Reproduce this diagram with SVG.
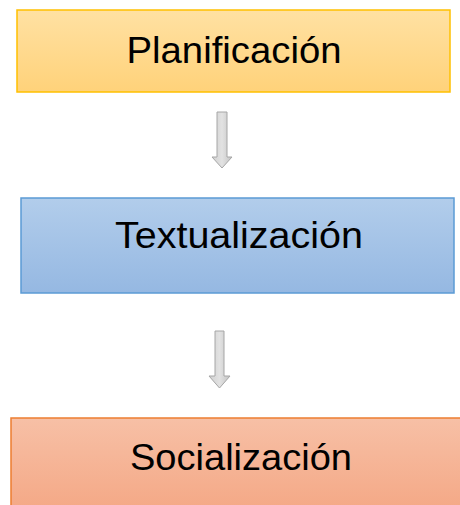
<svg xmlns="http://www.w3.org/2000/svg" width="460" height="505" viewBox="0 0 460 505">
<defs>
<linearGradient id="gY" x1="0" y1="0" x2="0" y2="1"><stop offset="0" stop-color="#FFE1A3"/><stop offset="1" stop-color="#FFD27A"/></linearGradient>
<linearGradient id="gB" x1="0" y1="0" x2="0" y2="1"><stop offset="0" stop-color="#B2CDEB"/><stop offset="1" stop-color="#95B8E2"/></linearGradient>
<linearGradient id="gO" x1="0" y1="0" x2="0" y2="1"><stop offset="0" stop-color="#F7C0A6"/><stop offset="1" stop-color="#F4A683"/></linearGradient>
<linearGradient id="gA" x1="0" y1="0" x2="1" y2="0"><stop offset="0" stop-color="#D0D0D0"/><stop offset="0.5" stop-color="#E2E2E2"/><stop offset="1" stop-color="#C4C4C4"/></linearGradient>
</defs>
<style>
.lbl{font-family:"Comic Sans MS","Liberation Sans",Arial,sans-serif;font-size:37px;fill:#000;text-anchor:middle}
.arr{fill:url(#gA);stroke:#A6A6A6;stroke-width:1}
</style>
<rect width="460" height="505" fill="#fff"/>
<g id="connectors">
<path class="arr" d="M217,112 H227 V157 H232 L222,168 L212,157 H217 Z"/>
<path class="arr" d="M215,331 H224 V376 H230 L219.5,388 L209,376 H215 Z"/>
</g>
<g id="planificacion">
<rect x="17" y="10" width="433" height="82" fill="url(#gY)" stroke="#FFC000" stroke-width="1.5"/>
<text class="lbl" x="234" y="63" textLength="215" lengthAdjust="spacingAndGlyphs">Planificación</text>
</g>
<g id="textualizacion">
<rect x="21" y="198" width="433" height="95" fill="url(#gB)" stroke="#5B9BD5" stroke-width="1.5"/>
<text class="lbl" x="239" y="248" textLength="248" lengthAdjust="spacingAndGlyphs">Textualización</text>
</g>
<g id="socializacion">
<rect x="11" y="418" width="460" height="100" fill="url(#gO)" stroke="#ED7D31" stroke-width="1.5"/>
<text class="lbl" x="241" y="470" textLength="222" lengthAdjust="spacingAndGlyphs">Socialización</text>
</g>
</svg>
